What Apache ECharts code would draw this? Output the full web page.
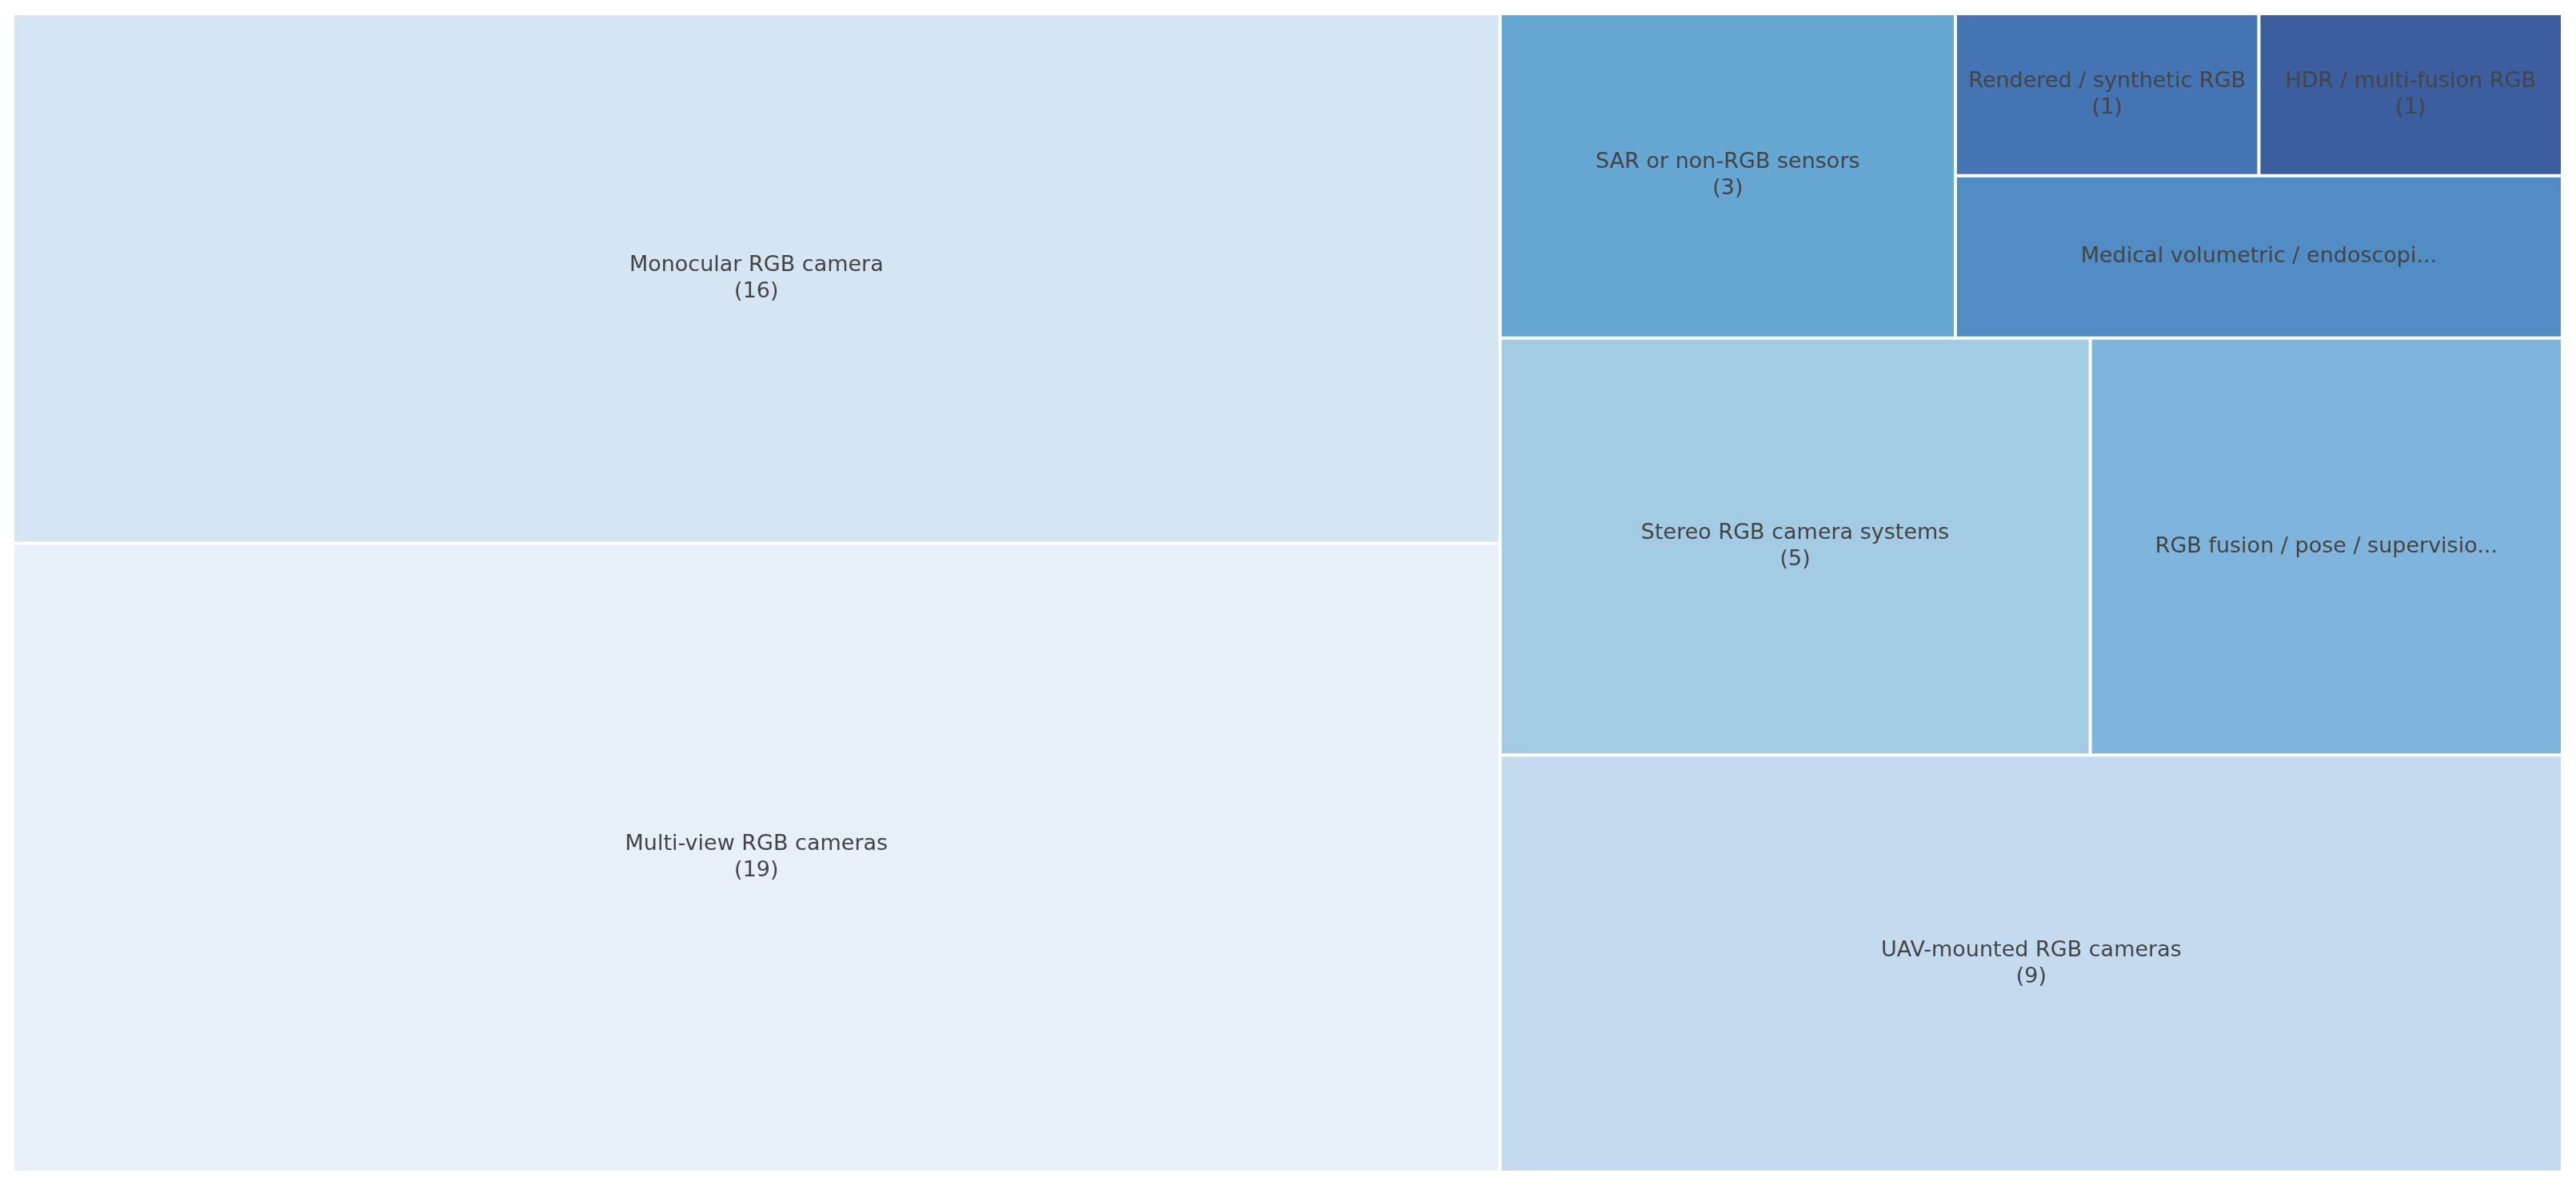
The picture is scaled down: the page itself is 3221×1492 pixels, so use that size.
<!DOCTYPE html>
<html>
<head>
<meta charset="utf-8">
<script src="https://cdn.jsdelivr.net/npm/echarts@6/dist/echarts.min.js"></script>
<style>
    html, body { margin: 0; padding: 0; background: #fff; }
    #chartWrap { width: 3221px; height: 1492px; }
</style>
</head>
<body>
<div id="chartWrap"></div>
<script>
// tile labels as they appear (two of them are cut off in the original)
const categories = [
    'Monocular RGB camera',
    'Multi-view RGB cameras',
    'SAR or non-RGB sensors',
    'Rendered / synthetic RGB',
    'HDR / multi-fusion RGB',
    'Medical volumetric / endoscopi...',
    'Stereo RGB camera systems',
    'RGB fusion / pose / supervisio...',
    'UAV-mounted RGB cameras'
];
const counts = [16, 19, 3, 1, 1, 2, 5, 4, 9];
const tileColors = ['#d5e5f4', '#e7eff8', '#66a6d2', '#4474b4', '#3c5e9e',
    '#518cc4', '#a3cbe4', '#7fb5dd', '#c4dbef'];

function leaf(i) {
    const cut = categories[i].endsWith('...');
    return {
        name: categories[i],
        value: counts[i],
        itemStyle: {color: tileColors[i], borderWidth: 2, borderColor: '#fff'},
        label: {formatter: cut ? '{b}' : '{b}\n({c})'}
    };
}

function group(children) {
    return {name: '', children: children};
}

// near-zero spacer: makes squarify close the row before the UAV tile
const spacer = {
    name: '',
    value: 1e-6,
    itemStyle: {color: 'rgba(0,0,0,0)', borderColor: 'rgba(0,0,0,0)', borderWidth: 0},
    label: {show: false}
};

const treeData = [
    group([leaf(0), leaf(1)]),
    group([
        group([
            group([leaf(2), group([group([leaf(3), leaf(4)]), leaf(5)])]),
            group([leaf(6), leaf(7)])
        ]),
        spacer,
        leaf(8)
    ])
];

const myChart = echarts.init(document.getElementById('chartWrap'));
myChart.setOption({
    animation: false,
    tooltip: {show: false},
    series: [{
        type: 'treemap',
        left: 16,
        top: 17,
        width: 3188,
        height: 1449,
        squareRatio: 2.2,
        sort: false,
        roam: false,
        nodeClick: false,
        breadcrumb: {show: false},
        itemStyle: {borderWidth: 0, gapWidth: 0, borderColor: '#fff'},
        upperLabel: {show: false},
        label: {
            show: true,
            position: 'inside',
            align: 'center',
            verticalAlign: 'middle',
            color: '#444',
            fontFamily: 'DejaVu Sans',
            fontSize: 27,
            lineHeight: 33
        },
        emphasis: {disabled: true},
        data: treeData
    }]
});
</script>
</body>
</html>
